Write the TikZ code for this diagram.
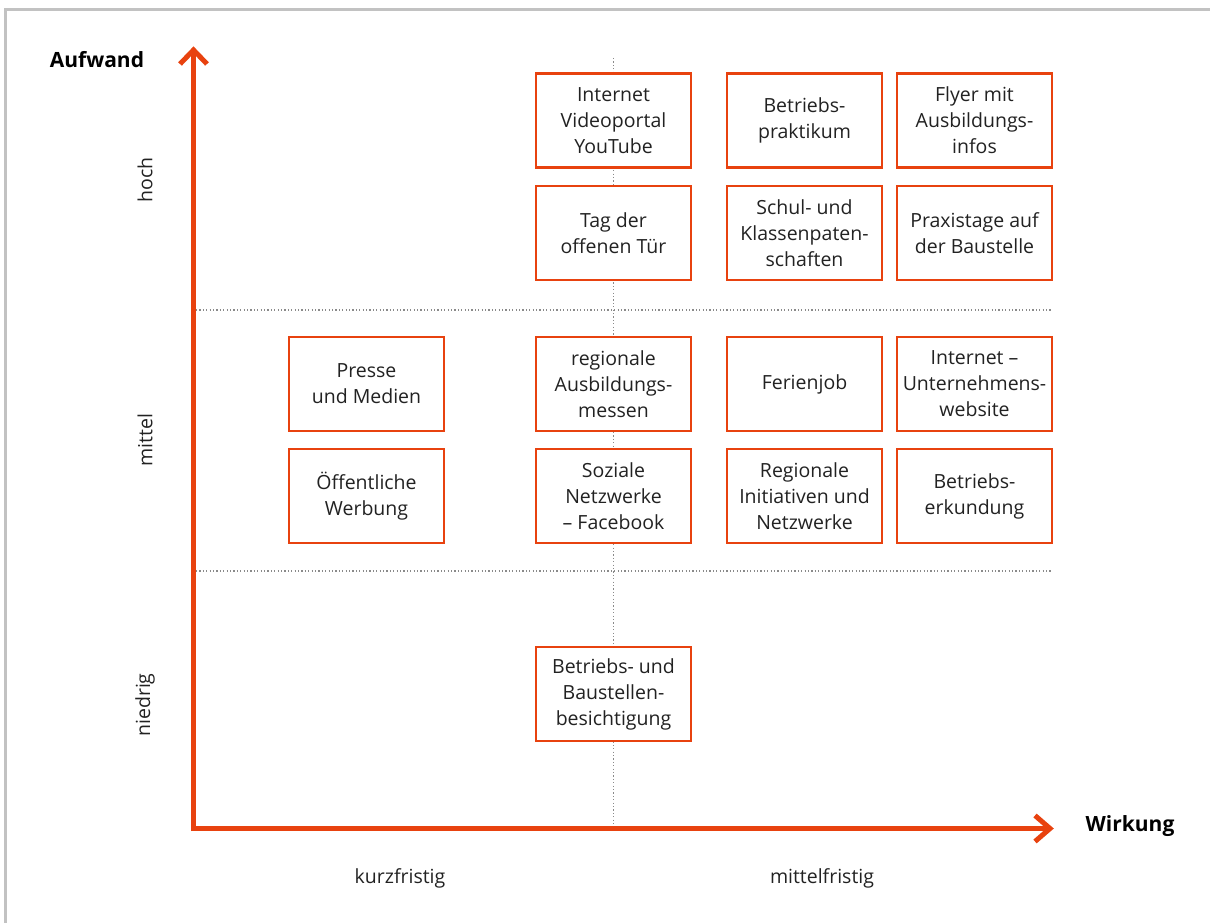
\documentclass[tikz,border=0pt]{standalone}
\usepackage{fontspec}
\setmainfont{Open Sans}
\usetikzlibrary{calc}
\definecolor{accent}{HTML}{E8420F}
\definecolor{txt}{HTML}{222222}
\definecolor{frame}{HTML}{C2C2C2}
\definecolor{dots}{HTML}{8A8A8A}
\tikzset{
  box/.style={draw=accent, line width=2.4pt, fill=white, minimum width=155pt, minimum height=94pt,
    align=center, text=txt, font=\fontsize{19.5}{26}\selectfont, inner sep=0pt},
  axis/.style={draw=accent, line width=5pt, line join=miter},
  grid/.style={draw=dots, line width=1.2pt, dash pattern=on 1.2pt off 2.2pt},
  axtitle/.style={font=\fontsize{21}{26}\selectfont\bfseries, text=black, inner sep=0pt},
  axlabel/.style={font=\fontsize{19.5}{26}\selectfont, text=txt, inner sep=0pt},
}
\begin{document}
\begin{tikzpicture}[x=1pt,y=-1pt]
\useasboundingbox (0,0) rectangle (1210,923);
% frame
\draw[frame, line width=2.5pt] (5.5,923) -- (5.5,9.5) -- (1210,9.5);
% coordinates
\coordinate (O) at (191,828.5);
\coordinate (Ytip) at (193.5,50);
\coordinate (Xtip) at (1050,828.5);
\coordinate (Vtop) at (613.5,58);
\coordinate (Vbot) at (613.5,828.5);
\coordinate (H1a) at (196,310);
\coordinate (H1b) at (1052,310);
\coordinate (H2a) at (196,571);
\coordinate (H2b) at (1052,571);
% grid lines
\draw[grid] (Vtop) -- (Vbot);
\draw[grid] (H1a) -- (H1b);
\draw[grid] (H2a) -- (H2b);
% axes
\draw[axis] (193.5,831) -- (Ytip);
\draw[axis] ($(Ytip)+(-13.5,14)$) -- (Ytip) -- ($(Ytip)+(13.5,14)$);
\draw[axis] (O) -- (Xtip);
\draw[axis] ($(Xtip)+(-15,-13)$) -- (Xtip) -- ($(Xtip)+(-15,13)$);
% titles
\node[axtitle] (aufwand) at (97,60) {Aufwand};
\node[axtitle] (wirkung) at (1130,826) {Wirkung};
\node[axlabel, rotate=90] (hoch) at (145,180) {hoch};
\node[axlabel, rotate=90] (mittel) at (145,440) {mittel};
\node[axlabel, rotate=90] (niedrig) at (145,705) {niedrig};
\node[axlabel] (kurz) at (400,878) {kurzfristig};
\node[axlabel] (mittelf) at (822,878) {mittelfristig};
% boxes
\node[box] (b12) at (613.5,120.5) {Internet\\Videoportal\\YouTube};
\node[box] (b13) at (804.5,120.5) {Betriebs-\\praktikum};
\node[box] (b14) at (974.5,120.5) {Flyer mit\\Ausbildungs-\\infos};
\node[box] (b22) at (613.5,233) {Tag der\\offenen Tür};
\node[box] (b23) at (804.5,233) {Schul- und\\Klassenpaten-\\schaften};
\node[box] (b24) at (974.5,233) {Praxistage auf\\der Baustelle};
\node[box] (b31) at (366.5,384) {Presse\\und Medien};
\node[box] (b32) at (613.5,384) {regionale\\Ausbildungs-\\messen};
\node[box] (b33) at (804.5,384) {Ferienjob};
\node[box] (b34) at (974.5,384) {Internet –\\Unternehmens-\\website};
\node[box] (b41) at (366.5,496) {Öffentliche\\Werbung};
\node[box] (b42) at (613.5,496) {Soziale\\Netzwerke\\– Facebook};
\node[box] (b43) at (804.5,496) {Regionale\\Initiativen und\\Netzwerke};
\node[box] (b44) at (974.5,496) {Betriebs-\\erkundung};
\node[box] (b52) at (613.5,694) {Betriebs- und\\Baustellen-\\besichtigung};
\end{tikzpicture}
\end{document}
